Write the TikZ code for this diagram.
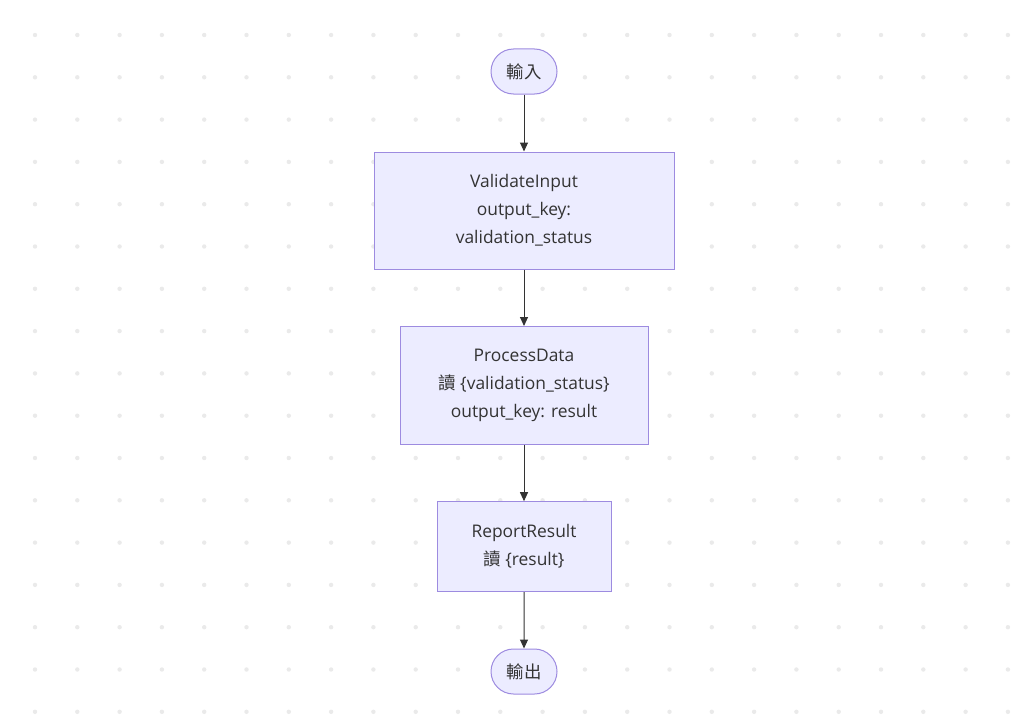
\documentclass[tikz,border=0pt]{standalone}
\usepackage{fontspec}
\setmainfont{Open Sans}
\newfontfamily\cjk{Noto Sans CJK TC}
\usetikzlibrary{arrows.meta,shapes.misc}
\definecolor{nodefill}{HTML}{ECECFF}
\definecolor{nodeedge}{HTML}{9D8BE0}
\definecolor{ink}{HTML}{333333}
\definecolor{dotc}{HTML}{EAEAEA}
\tikzset{
  box/.style={draw=nodeedge, fill=nodefill, line width=1pt, text=ink, align=center,
    font=\fontsize{17.4}{28}\selectfont, inner sep=0pt},
  term/.style={box, rounded rectangle, minimum width=66pt, minimum height=45pt},
  flow/.style={draw=ink, line width=1pt, -{Triangle[length=9pt,width=8pt]}},
}
\begin{document}
\begin{tikzpicture}[x=1pt,y=-1pt]
\useasboundingbox (0,0) rectangle (1024,725);
\fill[white] (0,0) rectangle (1024,725);
\foreach \i in {0,...,23} {
  \foreach \j in {0,...,16} {
    \fill[dotc] ({35+42.3*\i},{35+42.3*\j}) circle (2.2pt);
  }
}
\node[term] (in) at (524,71.5) {\cjk 輸入};
\node[box, minimum width=300pt, minimum height=117pt] (v) at (524,210.5)
  {ValidateInput\\output\_key:\\validation\_status};
\node[box, minimum width=248pt, minimum height=118pt] (p) at (524,385.5)
  {ProcessData\\{\cjk 讀} \{validation\_status\}\\output\_key: result};
\node[box, minimum width=174pt, minimum height=90pt] (r) at (524,546.7)
  {ReportResult\\{\cjk 讀} \{result\}};
\node[term] (out) at (524,671.5) {\cjk 輸出};
\draw[flow] (in) -- (v);
\draw[flow] (v) -- (p);
\draw[flow] (p) -- (r);
\draw[flow] (r) -- (out);
\end{tikzpicture}
\end{document}
